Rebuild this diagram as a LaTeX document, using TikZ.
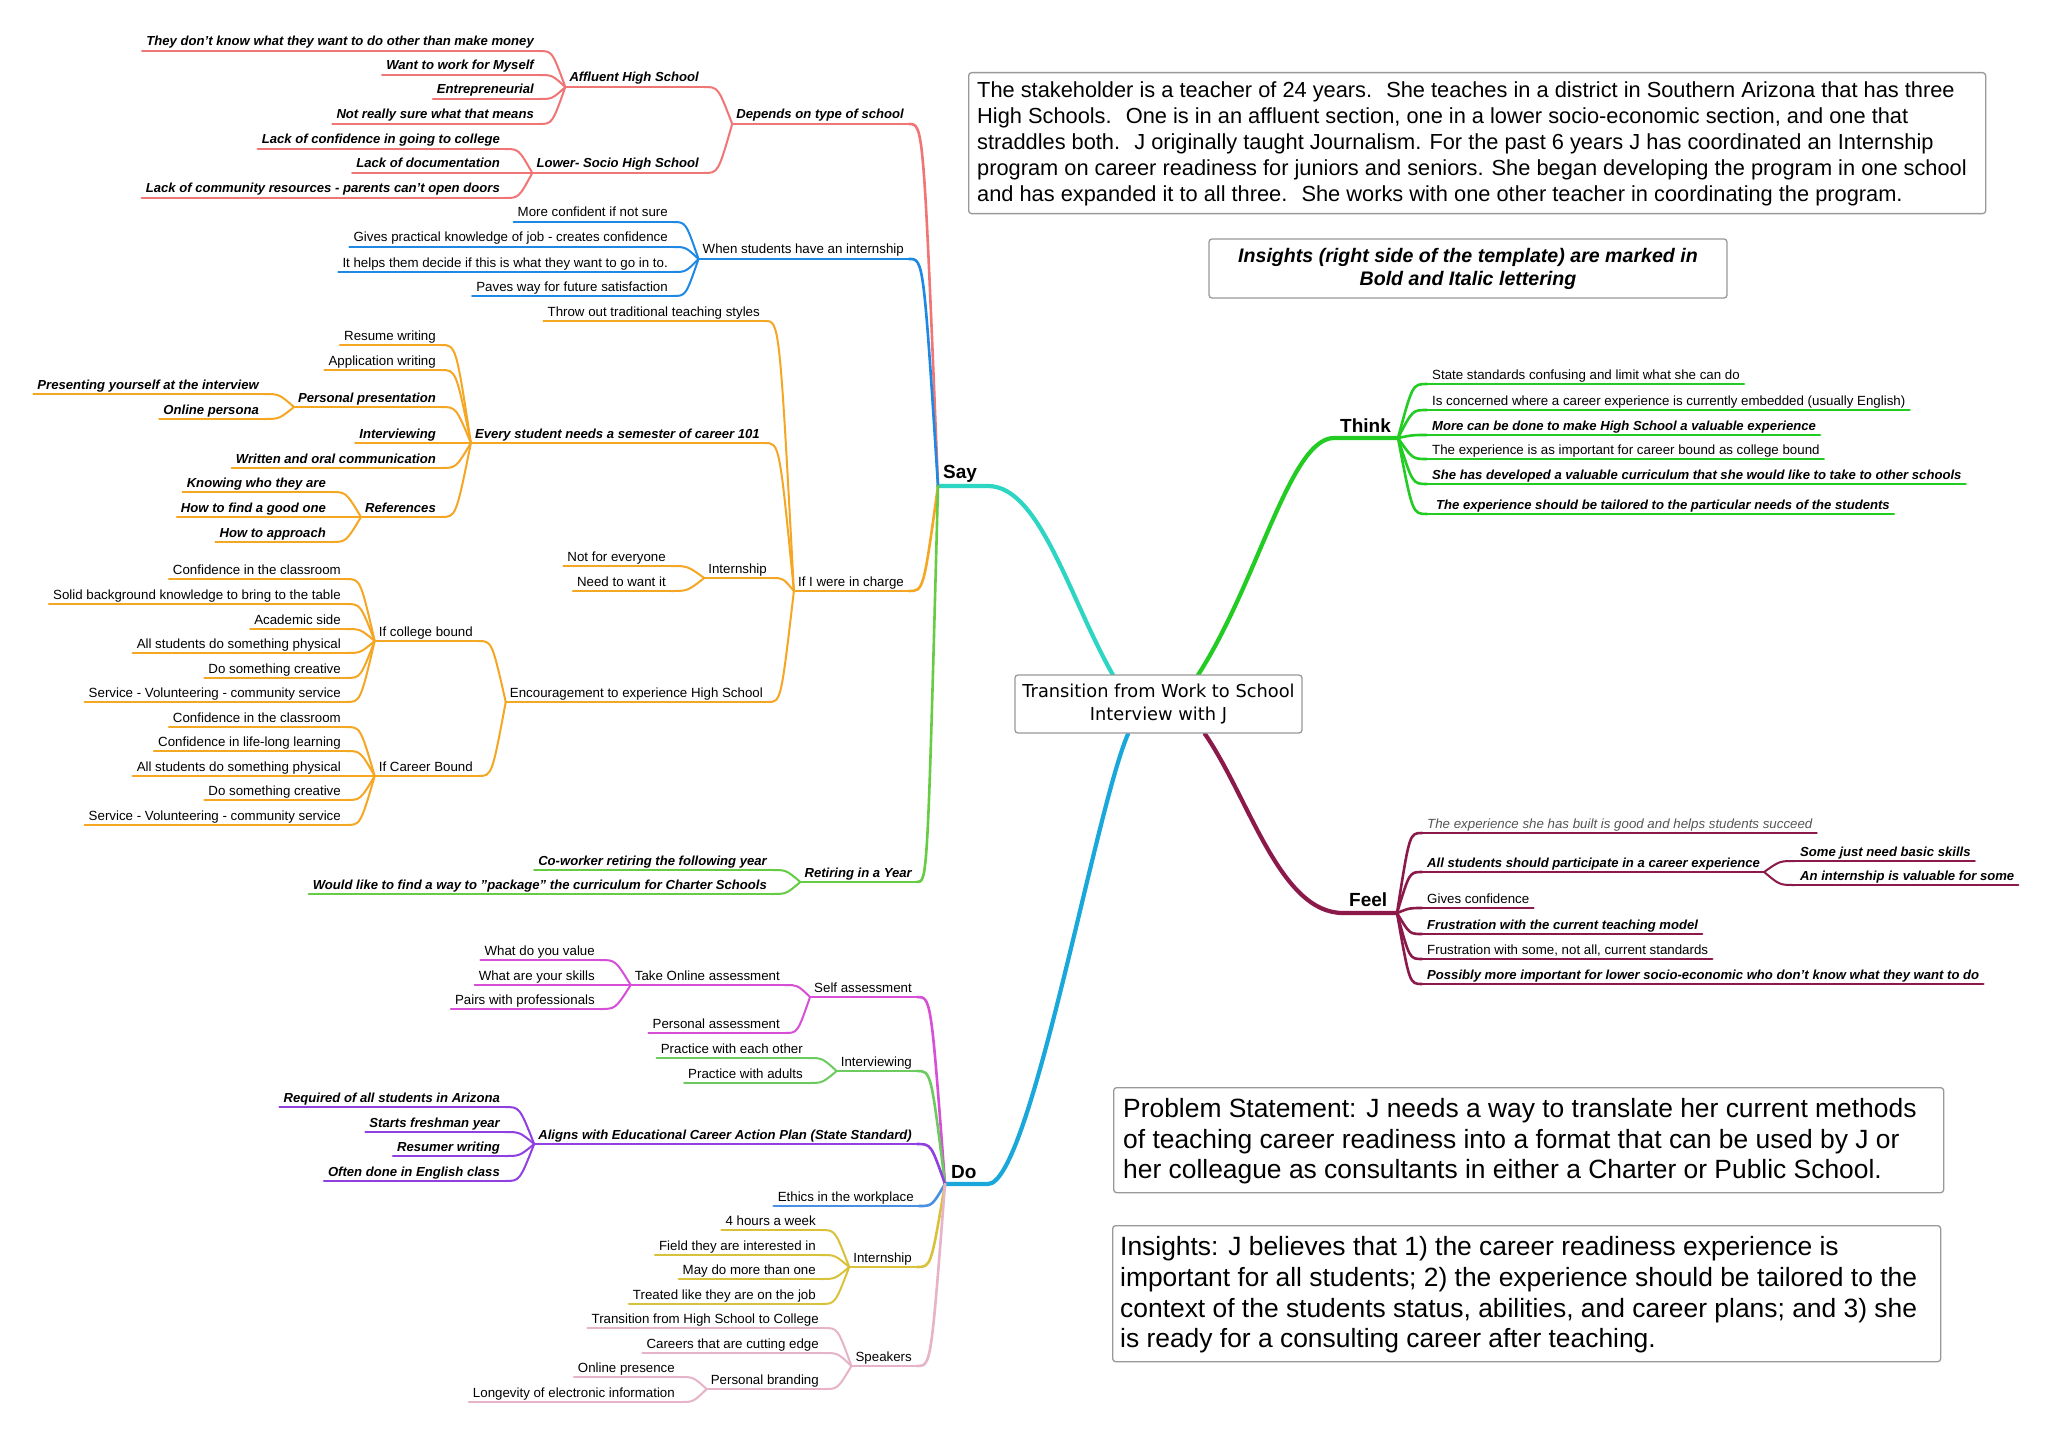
\documentclass[tikz,border=0pt]{standalone}
\usepackage{fontspec}
\setmainfont{Liberation Sans}
\newfontfamily\dejavu{DejaVu Sans}
\usetikzlibrary{calc}
\definecolor{cSay}{HTML}{2DD6C2}
\definecolor{cThink}{HTML}{22CC22}
\definecolor{cFeel}{HTML}{8B1A4B}
\definecolor{cDo}{HTML}{1AA8DA}
\definecolor{cRed}{HTML}{F07575}
\definecolor{cBlue}{HTML}{1E88E5}
\definecolor{cOr}{HTML}{F5A623}
\definecolor{cRet}{HTML}{66CC44}
\definecolor{cMag}{HTML}{D64FD6}
\definecolor{cIntv}{HTML}{6CCB5F}
\definecolor{cPur}{HTML}{9040E0}
\definecolor{cEth}{HTML}{4A90E2}
\definecolor{cYel}{HTML}{D9C23A}
\definecolor{cPink}{HTML}{E6B3C8}
\definecolor{cGrayT}{HTML}{555555}
\newcommand\bix{\fontsize{13.1}{16}\selectfont\bfseries\itshape}
% left-side topic: name, right x, underline y, line style, text
\newcommand\mmL[5]{%
  \coordinate (#1-r) at (#2,#3);
  \node[lbl, anchor=base east] (#1) at (#2-5,#3-5) {#5};
  \path (#1.west |- #1-r) ++(-4,0) coordinate (#1-l);
  \draw[ul,#4] (#1-l) -- (#1-r);}
% right-side topic: name, left x, underline y, line style, text
\newcommand\mmR[5]{%
  \coordinate (#1-l) at (#2,#3);
  \node[lbl, anchor=base west] (#1) at (#2+5,#3-5) {#5};
  \path (#1.east |- #1-l) ++(4,0) coordinate (#1-r);
  \draw[ul,#4] (#1-l) -- (#1-r);}
% connector: from, to, colour, style
\newcommand\cnx[4]{\draw[#4,#3] (#1) .. controls ($(#2)!0.5!(#1 |- #2)$) .. (#2);}
\begin{document}
\begin{tikzpicture}[x=1pt,y=-1pt,
  lbl/.style={inner sep=0pt, font=\fontsize{13.3}{16}\selectfont},
  ul/.style={line width=2pt, line cap=round},
  cn/.style={line width=2pt, line cap=round},
  lvA/.style={line width=2.6pt},
  mainc/.style={line width=4.2pt, line cap=round},
  tbox/.style={draw=black!40, line width=1.3pt, rounded corners=3pt, fill=white, inner sep=0pt},
  bigl/.style={inner sep=0pt, anchor=base west, font=\bfseries\fontsize{19}{22}\selectfont}]
\fill[white] (0,0) rectangle (2048,1434);
\useasboundingbox (0,0) rectangle (2048,1434);

% ---------- main branches ----------
\coordinate (rSay) at (1113,675);
\coordinate (rThink) at (1198,675);
\coordinate (rFeel) at (1205,734);
\coordinate (rDo) at (1128,734);
\coordinate (SJ) at (938,486);
\coordinate (SayE) at (988,486);
\coordinate (TJ) at (1398,438);
\coordinate (ThinkS) at (1334,438);
\coordinate (FJ) at (1397,913);
\coordinate (FeelS) at (1343,913);
\coordinate (DJ) at (945,1184);
\coordinate (DoE) at (988,1184);
\draw[mainc,cSay] (SJ) -- (SayE) .. controls (1040,486) and (1070,600) .. (rSay);
\draw[mainc,cThink] (rThink) .. controls (1258,582) and (1290,438) .. (ThinkS) -- (TJ);
\draw[mainc,cFeel] (rFeel) .. controls (1250,800) and (1280,913) .. (FeelS) -- (FJ);
\draw[mainc,cDo] (DJ) -- (DoE) .. controls (1030,1184) and (1095,810) .. (rDo);
\node[bigl] (say) at (943,478) {Say};
\node[bigl] (think) at (1340,432.5) {Think};
\node[bigl] (feel) at (1349,906.5) {Feel};
\node[bigl] (do) at (951,1178) {Do};

\node[tbox, minimum width=287pt, minimum height=58pt, align=center,
  font=\dejavu\fontsize{17.8}{23.5}\selectfont] (root) at (1158.5,704)
  {Transition from Work to School\\Interview with J};

% ---------- SAY ----------
\mmL{dep}{909}{124}{cRed,lvA}{\bix Depends on type of school}
\mmL{aff}{704}{87}{cRed}{\bix Affluent High School}
\mmL{a1}{539}{51}{cRed}{\bix They don't know what they want to do other than make money}
\mmL{a2}{539}{75}{cRed}{\bix Want to work for Myself}
\mmL{a3}{539}{99}{cRed}{\bix Entrepreneurial}
\mmL{a4}{539}{124}{cRed}{\bix Not really sure what that means}
\mmL{low}{704}{173}{cRed}{\bix Lower- Socio High School}
\mmL{lo1}{505}{149}{cRed}{\bix Lack of confidence in going to college}
\mmL{lo2}{505}{173}{cRed}{\bix Lack of documentation}
\mmL{lo3}{505}{198}{cRed}{\bix Lack of community resources - parents can't open doors}
\cnx{SJ}{dep-r}{cRed}{cn,lvA}
\cnx{dep-l}{aff-r}{cRed}{cn}
\cnx{dep-l}{low-r}{cRed}{cn}
\cnx{aff-l}{a1-r}{cRed}{cn}
\cnx{aff-l}{a2-r}{cRed}{cn}
\cnx{aff-l}{a3-r}{cRed}{cn}
\cnx{aff-l}{a4-r}{cRed}{cn}
\cnx{low-l}{lo1-r}{cRed}{cn}
\cnx{low-l}{lo2-r}{cRed}{cn}
\cnx{low-l}{lo3-r}{cRed}{cn}

\mmL{when}{909}{259}{cBlue,lvA}{When students have an internship}
\mmL{w1}{673}{222}{cBlue}{More confident if not sure}
\mmL{w2}{673}{247}{cBlue}{Gives practical knowledge of job - creates confidence}
\mmL{w3}{673}{272}{cBlue}{It helps them decide if this is what they want to go in to.}
\mmL{w4}{673}{296}{cBlue}{Paves way for future satisfaction}
\cnx{SJ}{when-r}{cBlue}{cn,lvA}
\cnx{when-l}{w1-r}{cBlue}{cn}
\cnx{when-l}{w2-r}{cBlue}{cn}
\cnx{when-l}{w3-r}{cBlue}{cn}
\cnx{when-l}{w4-r}{cBlue}{cn}

\mmL{charge}{909}{591}{cOr,lvA}{If I were in charge}
\mmL{throw}{765}{321}{cOr}{Throw out traditional teaching styles}
\mmL{every}{765}{443}{cOr}{\bix Every student needs a semester of career 101}
\mmL{e1}{441}{345}{cOr}{Resume writing}
\mmL{e2}{441}{370}{cOr}{Application writing}
\mmL{e3}{441}{407}{cOr}{\bix Personal presentation}
\mmL{e31}{264}{394}{cOr}{\bix Presenting yourself at the interview}
\mmL{e32}{264}{419}{cOr}{\bix Online persona}
\mmL{e4}{441}{443}{cOr}{\bix Interviewing}
\mmL{e5}{441}{468}{cOr}{\bix Written and oral communication}
\mmL{e6}{441}{517}{cOr}{\bix References}
\mmL{e61}{331}{492}{cOr}{\bix Knowing who they are}
\mmL{e62}{331}{517}{cOr}{\bix How to find a good one}
\mmL{e63}{331}{542}{cOr}{\bix How to approach}
\mmL{intern}{772}{578}{cOr}{Internship}
\mmL{i1}{671}{566}{cOr}{Not for everyone}
\mmL{i2}{671}{591}{cOr}{Need to want it}
\mmL{enc}{768}{702}{cOr}{Encouragement to experience High School}
\mmL{col}{478}{641}{cOr}{If college bound}
\mmL{cb1}{346}{579}{cOr}{Confidence in the classroom}
\mmL{cb2}{346}{604}{cOr}{Solid background knowledge to bring to the table}
\mmL{cb3}{346}{629}{cOr}{Academic side}
\mmL{cb4}{346}{653}{cOr}{All students do something physical}
\mmL{cb5}{346}{678}{cOr}{Do something creative}
\mmL{cb6}{346}{702}{cOr}{Service - Volunteering - community service}
\mmL{car}{478}{776}{cOr}{If Career Bound}
\mmL{kb1}{346}{727}{cOr}{Confidence in the classroom}
\mmL{kb2}{346}{751}{cOr}{Confidence in life-long learning}
\mmL{kb3}{346}{776}{cOr}{All students do something physical}
\mmL{kb4}{346}{800}{cOr}{Do something creative}
\mmL{kb5}{346}{825}{cOr}{Service - Volunteering - community service}
\cnx{SJ}{charge-r}{cOr}{cn,lvA}
\cnx{charge-l}{throw-r}{cOr}{cn}
\cnx{charge-l}{every-r}{cOr}{cn}
\cnx{charge-l}{intern-r}{cOr}{cn}
\cnx{charge-l}{enc-r}{cOr}{cn}
\cnx{every-l}{e1-r}{cOr}{cn}
\cnx{every-l}{e2-r}{cOr}{cn}
\cnx{every-l}{e3-r}{cOr}{cn}
\cnx{every-l}{e4-r}{cOr}{cn}
\cnx{every-l}{e5-r}{cOr}{cn}
\cnx{every-l}{e6-r}{cOr}{cn}
\cnx{e3-l}{e31-r}{cOr}{cn}
\cnx{e3-l}{e32-r}{cOr}{cn}
\cnx{e6-l}{e61-r}{cOr}{cn}
\cnx{e6-l}{e62-r}{cOr}{cn}
\cnx{e6-l}{e63-r}{cOr}{cn}
\cnx{intern-l}{i1-r}{cOr}{cn}
\cnx{intern-l}{i2-r}{cOr}{cn}
\cnx{enc-l}{col-r}{cOr}{cn}
\cnx{enc-l}{car-r}{cOr}{cn}
\cnx{col-l}{cb1-r}{cOr}{cn}
\cnx{col-l}{cb2-r}{cOr}{cn}
\cnx{col-l}{cb3-r}{cOr}{cn}
\cnx{col-l}{cb4-r}{cOr}{cn}
\cnx{col-l}{cb5-r}{cOr}{cn}
\cnx{col-l}{cb6-r}{cOr}{cn}
\cnx{car-l}{kb1-r}{cOr}{cn}
\cnx{car-l}{kb2-r}{cOr}{cn}
\cnx{car-l}{kb3-r}{cOr}{cn}
\cnx{car-l}{kb4-r}{cOr}{cn}
\cnx{car-l}{kb5-r}{cOr}{cn}

\mmL{ret}{917}{882}{cRet,lvA}{\bix Retiring in a Year}
\mmL{r1}{772}{870}{cRet}{\bix Co-worker retiring the following year}
\mmL{r2}{772}{894}{cRet}{\bix Would like to find a way to "package" the curriculum for Charter Schools}
\cnx{SJ}{ret-r}{cRet}{cn,lvA}
\cnx{ret-l}{r1-r}{cRet}{cn}
\cnx{ret-l}{r2-r}{cRet}{cn}

% ---------- DO ----------
\mmL{self}{917}{997}{cMag,lvA}{Self assessment}
\mmL{take}{785}{985}{cMag}{Take Online assessment}
\mmL{t1}{600}{960}{cMag}{What do you value}
\mmL{t2}{600}{985}{cMag}{What are your skills}
\mmL{t3}{600}{1009}{cMag}{Pairs with professionals}
\mmL{pers}{785}{1033}{cMag}{Personal assessment}
\cnx{DJ}{self-r}{cMag}{cn,lvA}
\cnx{self-l}{take-r}{cMag}{cn}
\cnx{self-l}{pers-r}{cMag}{cn}
\cnx{take-l}{t1-r}{cMag}{cn}
\cnx{take-l}{t2-r}{cMag}{cn}
\cnx{take-l}{t3-r}{cMag}{cn}

\mmL{intv}{917}{1071}{cIntv,lvA}{Interviewing}
\mmL{v1}{808}{1058}{cIntv}{Practice with each other}
\mmL{v2}{808}{1083}{cIntv}{Practice with adults}
\cnx{DJ}{intv-r}{cIntv}{cn,lvA}
\cnx{intv-l}{v1-r}{cIntv}{cn}
\cnx{intv-l}{v2-r}{cIntv}{cn}

\mmL{align}{917}{1144}{cPur,lvA}{\bix Aligns with Educational Career Action Plan (State Standard)}
\mmL{g1}{505}{1107}{cPur}{\bix Required of all students in Arizona}
\mmL{g2}{505}{1132}{cPur}{\bix Starts freshman year}
\mmL{g3}{505}{1156}{cPur}{\bix Resumer writing}
\mmL{g4}{505}{1181}{cPur}{\bix Often done in English class}
\cnx{DJ}{align-r}{cPur}{cn,lvA}
\cnx{align-l}{g1-r}{cPur}{cn}
\cnx{align-l}{g2-r}{cPur}{cn}
\cnx{align-l}{g3-r}{cPur}{cn}
\cnx{align-l}{g4-r}{cPur}{cn}

\mmL{ethics}{919}{1206}{cEth,lvA}{Ethics in the workplace}
\cnx{DJ}{ethics-r}{cEth}{cn,lvA}

\mmL{dint}{917}{1267}{cYel,lvA}{Internship}
\mmL{d1}{821}{1230}{cYel}{4 hours a week}
\mmL{d2}{821}{1255}{cYel}{Field they are interested in}
\mmL{d3}{821}{1279}{cYel}{May do more than one}
\mmL{d4}{821}{1304}{cYel}{Treated like they are on the job}
\cnx{DJ}{dint-r}{cYel}{cn,lvA}
\cnx{dint-l}{d1-r}{cYel}{cn}
\cnx{dint-l}{d2-r}{cYel}{cn}
\cnx{dint-l}{d3-r}{cYel}{cn}
\cnx{dint-l}{d4-r}{cYel}{cn}

\mmL{spk}{917}{1366}{cPink,lvA}{Speakers}
\mmL{s1}{824}{1328}{cPink}{Transition from High School to College}
\mmL{s2}{824}{1353}{cPink}{Careers that are cutting edge}
\mmL{brand}{824}{1389}{cPink}{Personal branding}
\mmL{b1}{680}{1377}{cPink}{Online presence}
\mmL{b2}{680}{1402}{cPink}{Longevity of electronic information}
\cnx{DJ}{spk-r}{cPink}{cn,lvA}
\cnx{spk-l}{s1-r}{cPink}{cn}
\cnx{spk-l}{s2-r}{cPink}{cn}
\cnx{spk-l}{brand-r}{cPink}{cn}
\cnx{brand-l}{b1-r}{cPink}{cn}
\cnx{brand-l}{b2-r}{cPink}{cn}

% ---------- THINK ----------
\mmR{th1}{1427}{384}{cThink,lvA}{State standards confusing and limit what she can do}
\mmR{th2}{1427}{410}{cThink,lvA}{Is concerned where a career experience is currently embedded (usually English)}
\mmR{th3}{1427}{435}{cThink,lvA}{\bix More can be done to make High School a valuable experience}
\mmR{th4}{1427}{459}{cThink,lvA}{The experience is as important for career bound as college bound}
\mmR{th5}{1427}{484}{cThink,lvA}{\bix She has developed a valuable curriculum that she would like to take to other schools}
\mmR{th6}{1427}{514}{cThink,lvA}{\hspace*{4pt}\bix The experience should be tailored to the particular needs of the students}
\cnx{TJ}{th1-l}{cThink}{cn,lvA}
\cnx{TJ}{th2-l}{cThink}{cn,lvA}
\cnx{TJ}{th3-l}{cThink}{cn,lvA}
\cnx{TJ}{th4-l}{cThink}{cn,lvA}
\cnx{TJ}{th5-l}{cThink}{cn,lvA}
\cnx{TJ}{th6-l}{cThink}{cn,lvA}

% ---------- FEEL ----------
\mmR{fe1}{1422}{833}{cFeel,lvA}{\itshape\color{cGrayT}The experience she has built is good and helps students succeed}
\mmR{fe2}{1422}{872}{cFeel,lvA}{\bix All students should participate in a career experience}
\mmR{fe21}{1795}{861}{cFeel}{\bix Some just need basic skills}
\mmR{fe22}{1795}{885}{cFeel}{\bix An internship is valuable for some}
\mmR{fe3}{1422}{908}{cFeel,lvA}{Gives confidence}
\mmR{fe4}{1422}{934}{cFeel,lvA}{\bix Frustration with the current teaching model}
\mmR{fe5}{1422}{959}{cFeel,lvA}{Frustration with some, not all, current standards}
\mmR{fe6}{1422}{984}{cFeel,lvA}{\bix Possibly more important for lower socio-economic who don't know what they want to do}
\cnx{FJ}{fe1-l}{cFeel}{cn,lvA}
\cnx{FJ}{fe2-l}{cFeel}{cn,lvA}
\cnx{FJ}{fe3-l}{cFeel}{cn,lvA}
\cnx{FJ}{fe4-l}{cFeel}{cn,lvA}
\cnx{FJ}{fe5-l}{cFeel}{cn,lvA}
\cnx{FJ}{fe6-l}{cFeel}{cn,lvA}
\cnx{fe2-r}{fe21-l}{cFeel}{cn}
\cnx{fe2-r}{fe22-l}{cFeel}{cn}

% ---------- TEXT BOXES ----------
\node[tbox, minimum width=1017pt, minimum height=141pt, anchor=north west] (stakebox) at (968,72) {};
\node[inner sep=0pt, anchor=north west, align=left, font=\fontsize{21.8}{26}\selectfont] (stake) at (977,82)
{The stakeholder is a teacher of 24 years.~ She teaches in a district in Southern Arizona that has three\\
High Schools.~ One is in an affluent section, one in a lower socio-economic section, and one that\\
straddles both.~ J originally taught Journalism. For the past 6 years J has coordinated an Internship\\
program on career readiness for juniors and seniors. She began developing the program in one school\\
and has expanded it to all three.~ She works with one other teacher in coordinating the program.};

\node[tbox, minimum width=518pt, minimum height=59pt, align=center,
  font=\bfseries\itshape\fontsize{19.6}{23}\selectfont] (insnote) at (1468,268.5)
  {Insights (right side of the template) are marked in\\Bold and Italic lettering};

\node[tbox, minimum width=830pt, minimum height=105pt, anchor=north west] (probbox) at (1113,1087) {};
\node[inner sep=0pt, anchor=north west, align=left, font=\fontsize{26.4}{30.5}\selectfont] (prob) at (1123,1098.5)
{Problem Statement: J needs a way to translate her current methods\\
of teaching career readiness into a format that can be used by J or\\
her colleague as consultants in either a Charter or Public School.};

\node[tbox, minimum width=828pt, minimum height=136pt, anchor=north west] (insbox) at (1112,1225) {};
\node[inner sep=0pt, anchor=north west, align=left, font=\fontsize{26.4}{30.7}\selectfont] (ins) at (1120,1236.5)
{Insights: J believes that 1) the career readiness experience is\\
important for all students; 2) the experience should be tailored to the\\
context of the students status, abilities, and career plans; and 3) she\\
is ready for a consulting career after teaching.};
\end{tikzpicture}
\end{document}
